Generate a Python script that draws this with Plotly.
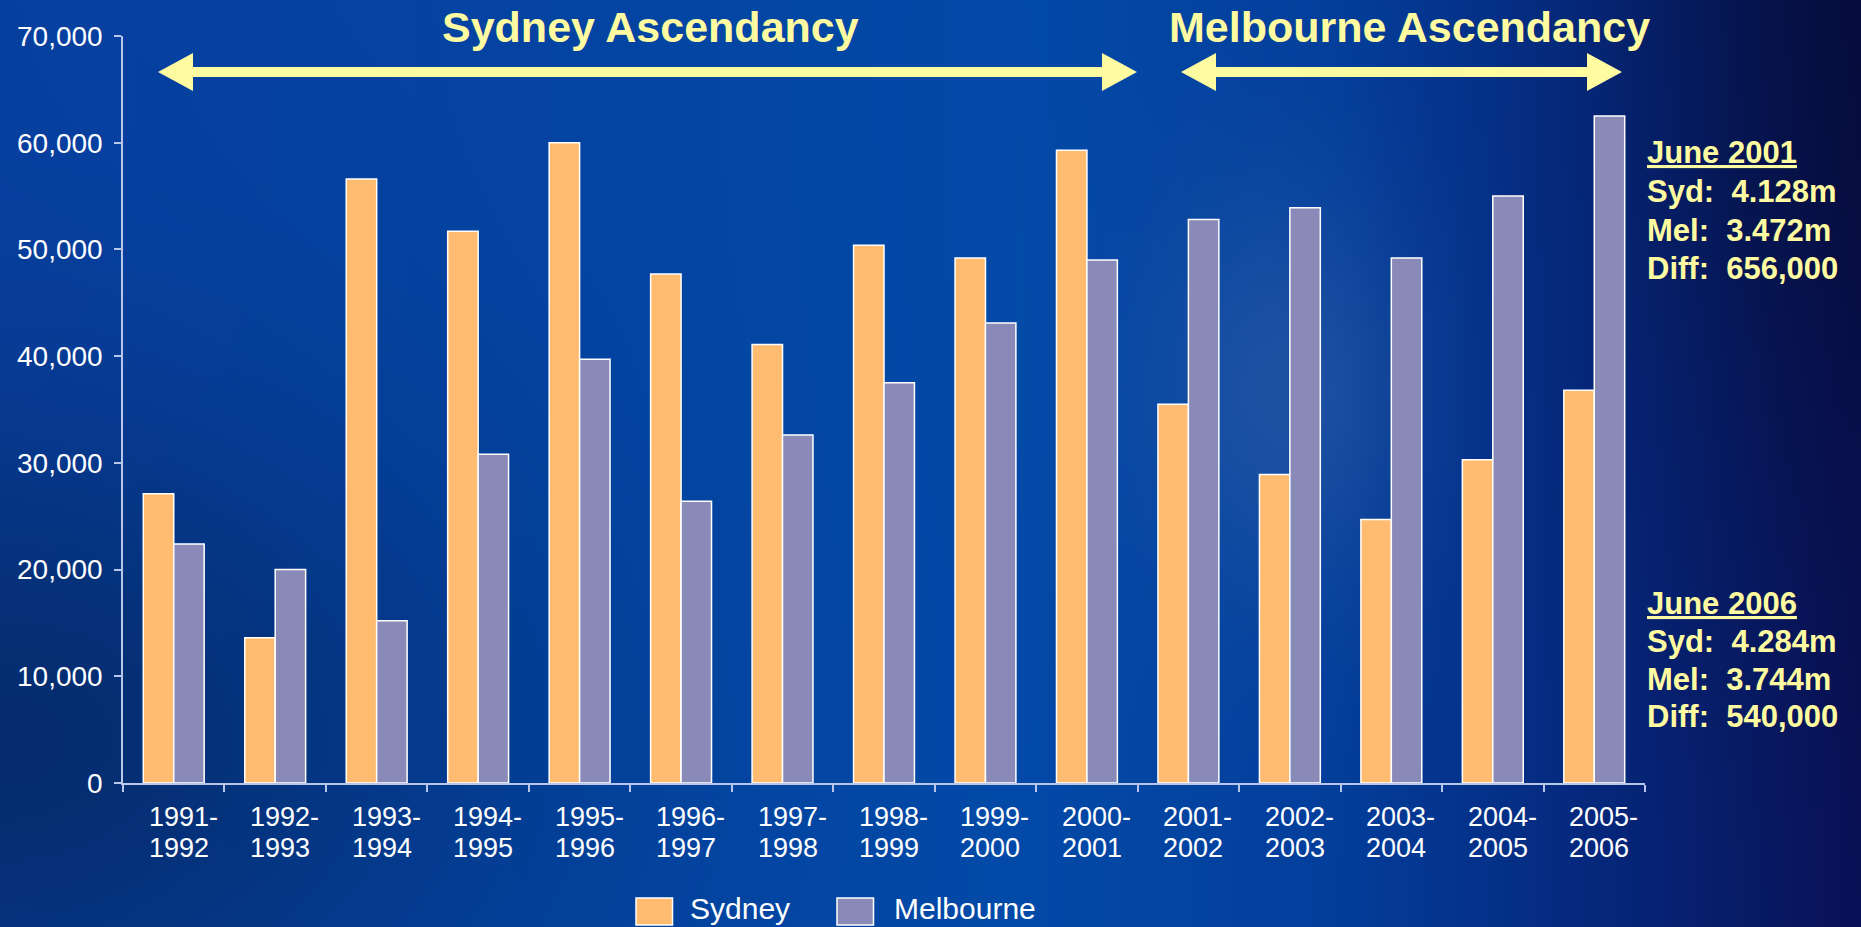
import base64
import struct
import zlib

import numpy as np
import plotly.graph_objects as go

# ---------------- data ----------------
categories = ["1991-1992", "1992-1993", "1993-1994", "1994-1995", "1995-1996",
              "1996-1997", "1997-1998", "1998-1999", "1999-2000", "2000-2001",
              "2001-2002", "2002-2003", "2003-2004", "2004-2005", "2005-2006"]
sydney = [27100, 13600, 56600, 51700, 60000, 47700, 41100, 50400, 49200, 59300,
          35500, 28900, 24700, 30300, 36800]
melbourne = [22400, 20000, 15200, 30800, 39700, 26400, 32600, 37500, 43100, 49000,
             52800, 53900, 49200, 55000, 62500]
series_names = ["Sydney", "Melbourne"]
y_ticks = [0, 10000, 20000, 30000, 40000, 50000, 60000, 70000]
period_titles = ["Sydney Ascendancy", "Melbourne Ascendancy"]
notes_2001 = ["<u>June 2001</u>", "Syd:\u00a0 4.128m", "Mel:\u00a0 3.472m", "Diff:\u00a0 656,000"]
notes_2006 = ["<u>June 2006</u>", "Syd:\u00a0 4.284m", "Mel:\u00a0 3.744m", "Diff:\u00a0 540,000"]

# ---------------- styling ----------------
W, H = 1861, 927
ML, MR, MT, MB = 123, 216, 36, 144
PW, PH = W - ML - MR, H - MT - MB
C_SYD = "#FFBB70"
C_MEL = "#8A8AB8"
YEL = "#FFFBA0"
FONT = "Liberation Sans, Arial, sans-serif"


def pxx(x):
    return (x - ML) / PW


def pxy(y):
    return (H - MB - y) / PH


# ---------------- background gradient (PNG data URI) ----------------
def make_bg(w=466, h=232):
    xs = np.linspace(0, 1, w)[None, :] * np.ones((h, 1))
    ys = np.linspace(0, 1, h)[:, None] * np.ones((1, w))
    sx = [0.0, 0.3, 0.55, 0.72, 0.86, 1.0]
    R = np.interp(xs, sx, [8, 4, 4, 3, 6, 10])
    G = np.interp(xs, sx, [64, 68, 74, 62, 40, 18])
    B = np.interp(xs, sx, [160, 162, 168, 155, 125, 88])
    img = np.stack([R, G, B], axis=-1)
    f = 1 - 0.3 * np.exp(-(((xs - 0.0) / 0.25) ** 2 + ((ys - 0.8) / 0.35) ** 2))
    f *= 1 - 0.3 * np.exp(-(((xs - 1.0) / 0.12) ** 2 + ((ys - 0.0) / 0.6) ** 2))
    img *= f[..., None]
    gl = 0.5 * np.exp(-(((xs - 0.69) / 0.07) ** 2 + ((ys - 0.42) / 0.22) ** 2))
    glow = np.array([55, 100, 168], dtype=float)
    img = img * (1 - gl[..., None]) + glow * gl[..., None]
    img = np.clip(img, 0, 255).astype(np.uint8)
    raw = b"".join(b"\x00" + img[i].tobytes() for i in range(h))

    def chunk(t, d):
        return struct.pack(">I", len(d)) + t + d + struct.pack(">I", zlib.crc32(t + d) & 0xFFFFFFFF)

    png = (b"\x89PNG\r\n\x1a\n" + chunk(b"IHDR", struct.pack(">IIBBBBB", w, h, 8, 2, 0, 0, 0))
           + chunk(b"IDAT", zlib.compress(raw, 9)) + chunk(b"IEND", b""))
    return "data:image/png;base64," + base64.b64encode(png).decode()


fig = go.Figure()
for name, vals, col in [(series_names[0], sydney, C_SYD), (series_names[1], melbourne, C_MEL)]:
    fig.add_trace(go.Bar(x=categories, y=vals, name=name, marker_color=col,
                         marker_line_color="white", marker_line_width=1.5,
                         showlegend=False))

annotations = []
# x category labels, two left-aligned lines
for c in categories:
    a, b = c.split("-")
    for txt, ys in [(a + "-", -34), (b, -65)]:
        annotations.append(dict(x=c, xref="x", y=0, yref="paper", text=txt, showarrow=False,
                                xanchor="left", yanchor="middle", xshift=-26, yshift=ys,
                                borderpad=0,
                                font=dict(family=FONT, size=27, color="white")))

# period titles
for txt, cx in zip(period_titles, [650, 1409]):
    annotations.append(dict(x=pxx(cx), xref="paper", y=pxy(27), yref="paper", text=f"<b>{txt}</b>",
                            showarrow=False, xanchor="center", yanchor="middle",
                            font=dict(family=FONT, size=43, color=YEL)))

# side notes
for lines, ys in [(notes_2001, [153, 191.5, 230, 268]), (notes_2006, [603, 641, 679, 716.5])]:
    for txt, yy in zip(lines, ys):
        annotations.append(dict(x=pxx(1646), xref="paper", y=pxy(yy), yref="paper",
                                text=f"<b>{txt}</b>", showarrow=False, xanchor="left", yanchor="middle",
                                borderpad=0,
                                font=dict(family=FONT, size=31, color=YEL)))

# legend text
for name, lx in zip(series_names, [688, 892]):
    annotations.append(dict(x=pxx(lx), xref="paper", y=pxy(927), yref="paper", text=name,
                            showarrow=False, xanchor="left", yanchor="bottom",
                            font=dict(family=FONT, size=30, color="white")))

shapes = []


def arrow(x0, x1, yc, hl=35, hh=19, sh=5):
    pts = [(x0, yc), (x0 + hl, yc - hh), (x0 + hl, yc - sh), (x1 - hl, yc - sh), (x1 - hl, yc - hh),
           (x1, yc), (x1 - hl, yc + hh), (x1 - hl, yc + sh), (x0 + hl, yc + sh), (x0 + hl, yc + hh)]
    path = "M " + " L ".join(f"{pxx(px):.5f},{pxy(py):.5f}" for px, py in pts) + " Z"
    return dict(type="path", xref="paper", yref="paper", path=path, fillcolor=YEL,
                line=dict(width=0), layer="above")


shapes.append(arrow(158, 1137, 72))
shapes.append(arrow(1181, 1622, 72))

# legend swatches
for col, sx in zip([C_SYD, C_MEL], [636, 837]):
    shapes.append(dict(type="rect", xref="paper", yref="paper", x0=pxx(sx), x1=pxx(sx + 36.5),
                       y0=pxy(925), y1=pxy(898), fillcolor=col, line=dict(color="white", width=1.5)))

fig.update_layout(
    width=W, height=H, template="none",
    margin=dict(l=ML, r=MR, t=MT, b=MB, pad=0),
    paper_bgcolor="#04409C", plot_bgcolor="rgba(0,0,0,0)",
    barmode="group", bargap=0.4, bargroupgap=0,
    font=dict(family=FONT, color="white"),
    annotations=annotations, shapes=shapes,
    images=[dict(source=make_bg(), xref="paper", yref="paper", x=pxx(0), y=pxy(0),
                 sizex=W / PW, sizey=H / PH, sizing="stretch", xanchor="left", yanchor="top",
                 layer="below")],
)
fig.update_xaxes(showline=True, linecolor="#B8C6EA", linewidth=1.5, ticks="outside",
                 tickson="boundaries", ticklen=7, tickcolor="#B8C6EA", tickwidth=1.5,
                 showticklabels=False, showgrid=False, zeroline=False, automargin=False)
fig.update_yaxes(range=[0, 70000], tickvals=y_ticks, tickformat=",", showline=True,
                 linecolor="#B8C6EA", linewidth=1.5, ticks="outside", ticklen=7,
                 tickcolor="#B8C6EA", tickwidth=1.5, showgrid=False, zeroline=False,
                 tickfont=dict(family=FONT, size=28, color="white"), automargin=False,
                 ticklabelstandoff=6)

fig.write_html("out.html", config={"displayModeBar": False},
               post_script="document.body.style.margin='0px';document.body.style.overflow='hidden';")
